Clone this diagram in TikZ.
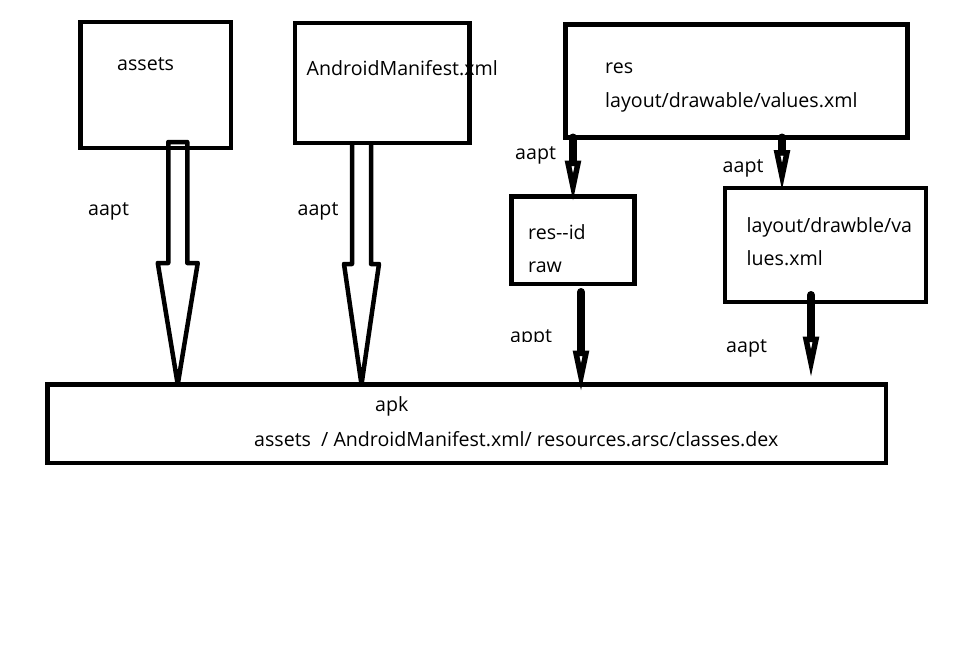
\documentclass[tikz,border=0pt]{standalone}
\usepackage{fontspec}
\setmainfont{Open Sans}
\usetikzlibrary{arrows.meta, calc}

\begin{document}
\begin{tikzpicture}[x=1pt, y=-1pt, font=\fontsize{19.6}{22}\selectfont,
    box/.style={draw, line width=4.5pt, outer sep=0pt, inner sep=0pt},
    lbl/.style={anchor=base west, inner sep=0pt},
    hollow/.style={line width=4.5pt, line join=round},
    thinarrow/.style={line width=8pt, line cap=round, -{Triangle[open, length=42pt, width=15pt, line width=5.5pt]}}]
          \useasboundingbox (0,0) rectangle (964,654);

          \node [box, minimum width=150.5pt, minimum height=126pt] (assets) at (155.75,85) {}; % Draws a rectangle
          \node [box, minimum width=174.5pt, minimum height=120pt] (manifest) at (382.25,83) {}; % Draws a rectangle
          \node [box, minimum width=342pt, minimum height=113pt] (res) at (736.5,81) {}; % Draws a rectangle

          \node [box, minimum width=123pt, minimum height=87.5pt] (resid) at (573,240.25) {}; % Draws a rectangle
          \node [box, minimum width=201pt, minimum height=114pt] (layout) at (825.5,245) {}; % Draws a rectangle

          \node [box, minimum width=838.5pt, minimum height=78.5pt] (apk) at (466.75,423.75) {}; % Draws a rectangle

          \node [lbl] (assets text) at (117,70) {assets};
          \node [lbl] (manifest text) at (306.5,75) {AndroidManifest.xml};
          \node [lbl] (res text) at (605,73) {res};
          \node [lbl] (res files) at (605,107) {layout/drawable/values.xml};
          \node [lbl] (resid text) at (528,239) {res-{}-id};
          \node [lbl] (raw text) at (528,272) {raw};
          \node [lbl] (layout text) at (746.5,232) {layout/drawble/va};
          \node [lbl] (layout text2) at (746.5,265) {lues.xml};
          \node [lbl] (apk text) at (375,411) {apk};
          \node [lbl] (apk files) at (254,446) {assets\ \ / AndroidManifest.xml/ resources.arsc/classes.dex};

          \node [lbl] (aapt1) at (88,215) {aapt};
          \node [lbl] (aapt2) at (297.5,215) {aapt};
          \node [lbl] (aapt3) at (515,159.5) {aapt};
          \node [lbl] (aapt4) at (722.5,172.5) {aapt};
          \node [lbl] (aapt6) at (726,352) {aapt};
          \begin{scope}
            \clip (500,300) rectangle (570,341);
            \node [lbl] (aapt5) at (510,342) {appt};
          \end{scope}

          \coordinate (assets out) at ([xshift=22pt,yshift=6pt]assets.south);
          \coordinate (manifest out) at ([xshift=-20.75pt]manifest.south);
          \coordinate (layout in) at ([xshift=57pt,yshift=-4pt]layout.north west);
          \coordinate (resid out) at ([xshift=69.5pt,yshift=-8pt]resid.south west);
          \coordinate (layout out) at ([xshift=86pt,yshift=7pt]layout.south west);

          \draw [hollow] ($(assets out)+(-9.5,0)$) -- ++(0,121) -- ++(-10.5,0)
            -- (assets out |- apk.north) -- ($(assets out)+(20,121)$) -- ++(-10.5,0) -- ++(0,-121) -- cycle; % Draws a big arrow
          \draw [hollow] ($(manifest out)+(-9.5,0)$) -- ++(0,121) -- ++(-8,0)
            -- (manifest out |- apk.north) -- ($(manifest out)+(17.5,121)$) -- ++(-8,0) -- ++(0,-121); % Draws a big arrow

          \draw [thinarrow] (res.south -| resid.north) -- ($(resid.north)+(0,6)$);
          \draw [thinarrow] (res.south -| layout in) -- (layout in);
          \draw [thinarrow] (resid out) -- ($(apk.north -| resid out)+(0,8)$);
          \draw [thinarrow] (layout out) -- ($(apk.north -| layout out)+(0,-6)$);
        \end{tikzpicture}
\end{document}
